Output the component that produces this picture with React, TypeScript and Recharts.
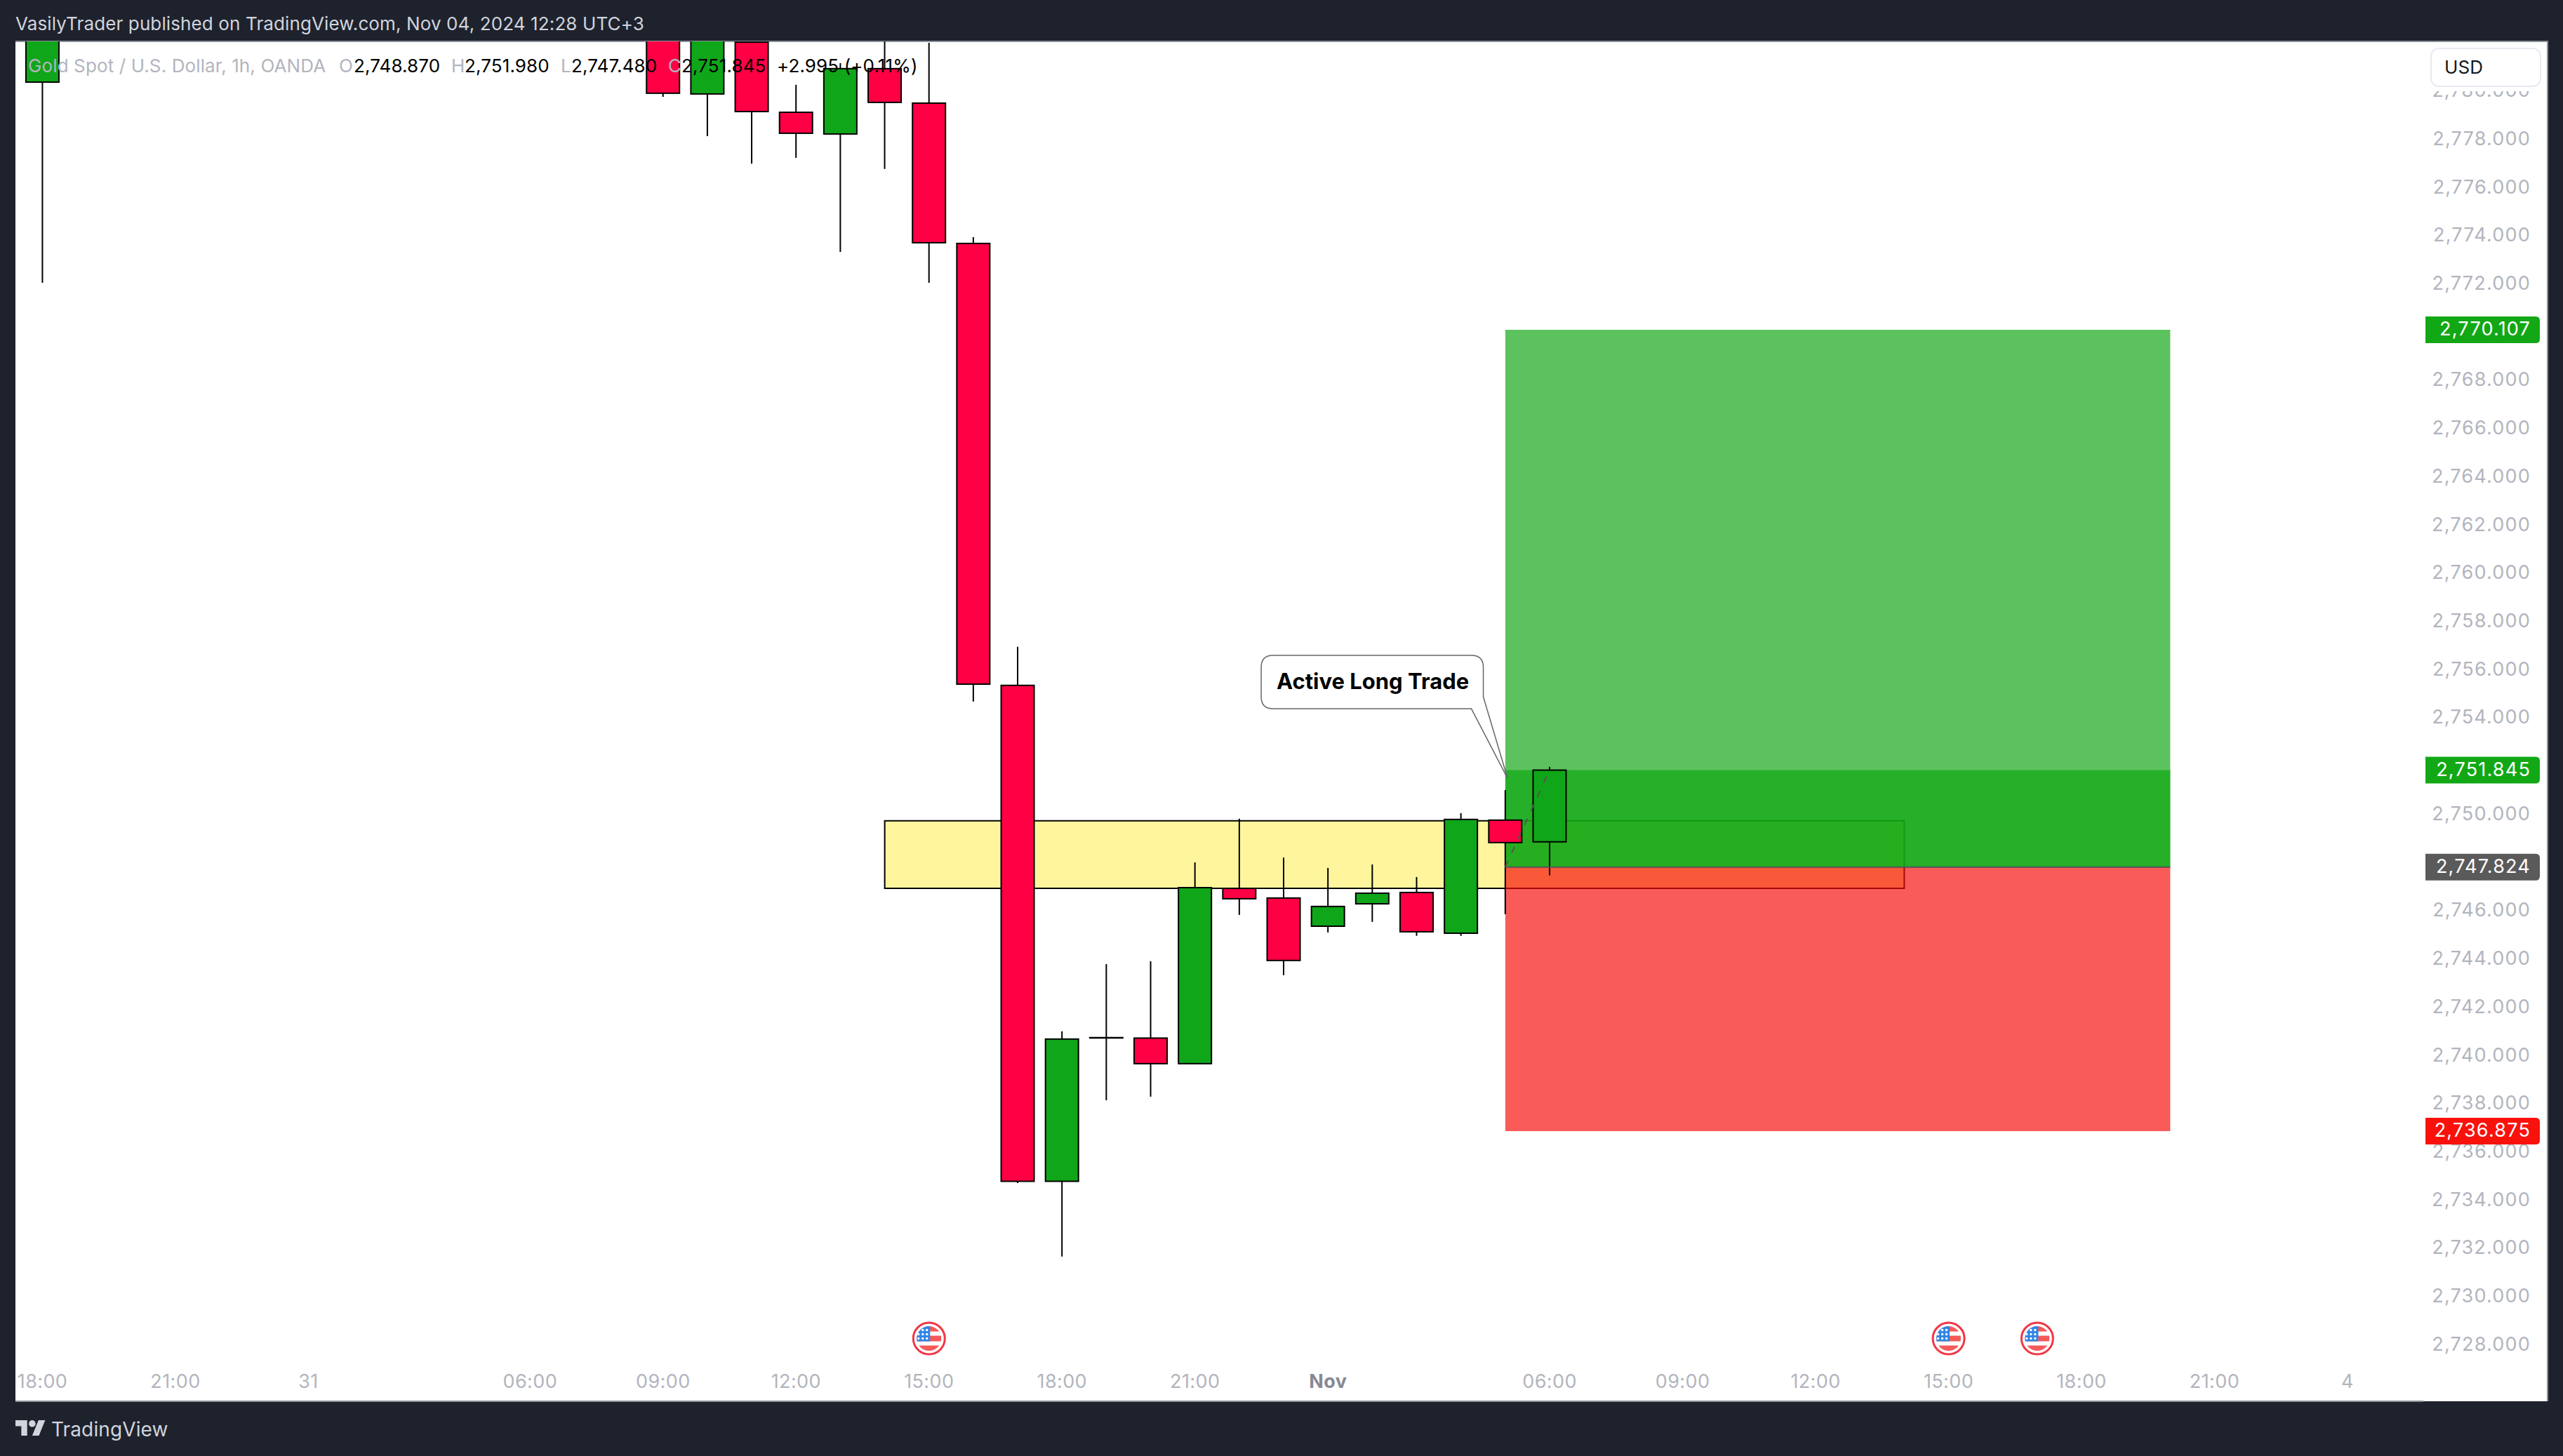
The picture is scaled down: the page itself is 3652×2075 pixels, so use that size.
import React from "react";
import { ComposedChart, Bar, XAxis, YAxis, ReferenceArea, ReferenceLine, ReferenceDot } from "recharts";

// hour index along the time axis (0 = Oct 30 18:00), candles in between sit above the visible range
const hours = [0, 14, 15, 16, 17, 18, 19, 20, 21, 22, 23, 24, 25, 26, 27, 28, 29, 30, 31, 32, 33, 34];
const opens = [2780.38, 2783.2, 2779.89, 2782.04, 2779.13, 2778.23, 2780.94, 2779.51, 2773.69, 2755.36, 2734.79, 2740.75, 2740.73, 2739.67, 2746.94, 2746.54, 2745.37, 2746.3, 2746.77, 2745.08, 2749.77, 2748.87];
const closes = [2785, 2779.92, 2783, 2779.16, 2778.26, 2780.94, 2779.54, 2773.72, 2755.41, 2734.79, 2740.69, 2740.74, 2739.67, 2746.97, 2746.51, 2743.95, 2746.19, 2746.74, 2745.14, 2749.8, 2748.84, 2751.845];
const highs = [2790, 2784, 2784, 2783, 2780.27, 2781.17, 2782.5, 2782.01, 2773.95, 2756.96, 2741.01, 2743.8, 2743.92, 2748.02, 2749.83, 2748.22, 2747.79, 2747.93, 2747.41, 2750.06, 2751.02, 2751.98];
const lows = [2772.06, 2779.77, 2778.14, 2777, 2777.24, 2773.34, 2776.78, 2772.06, 2754.69, 2734.72, 2731.67, 2738.15, 2738.3, 2739.65, 2745.84, 2743.34, 2745.11, 2745.55, 2744.97, 2744.97, 2745.87, 2747.48];

const timeTicks = [0, 3, 6, 11, 14, 17, 20, 23, 26, 29, 34, 37, 40, 43, 46, 49, 52];
const timeLabels = ["18:00", "21:00", "31", "06:00", "09:00", "12:00", "15:00", "18:00", "21:00", "Nov", "06:00", "09:00", "12:00", "15:00", "18:00", "21:00", "4"];
const priceTicks = [2780, 2778, 2776, 2774, 2772, 2768, 2766, 2764, 2762, 2760, 2758, 2756, 2754, 2750, 2746, 2744, 2742, 2740, 2738, 2736, 2734, 2732, 2730, 2728];

const takeProfit = 2770.107;
const currentPrice = 2751.845;
const entryPrice = 2747.824;
const stopLoss = 2736.875;
const zoneTop = 2749.74;
const zoneBottom = 2746.94;
const eventHours = [20, 43, 45];
const eventPrice = 2728.27;

const priceTags: Record<number, string> = {
  [takeProfit]: "#12a815",
  [currentPrice]: "#12a815",
  [entryPrice]: "#5a5a5a",
  [stopLoss]: "#f9110c",
};

const candles = hours.map((hour, i) => ({
  hour,
  open: opens[i],
  close: closes[i],
  high: highs[i],
  low: lows[i],
  range: [lows[i], highs[i]],
}));

const UI_FONT = "Inter, sans-serif";
const GREEN = "#10a619";
const RED = "#ff0044";

function Candle(props: any) {
  const { x, y, width, height, payload } = props;
  const unit = Math.abs(height) / (payload.high - payload.low);
  const yOf = (p: number) => y + (payload.high - p) * unit;
  const mid = x + width / 2;
  const top = yOf(Math.max(payload.open, payload.close));
  const bottom = yOf(Math.min(payload.open, payload.close));
  return (
    <g>
      <line x1={mid} x2={mid} y1={yOf(payload.high)} y2={yOf(payload.low)} stroke="#000" strokeWidth={2} />
      <rect
        x={x + 1}
        y={top}
        width={width - 2}
        height={Math.max(bottom - top, 0.5)}
        fill={payload.close >= payload.open ? GREEN : RED}
        stroke="#000"
        strokeWidth={2}
      />
    </g>
  );
}

function PriceTick({ y, payload }: any) {
  const tag = priceTags[payload.value];
  const label = payload.value.toLocaleString("en-US", { minimumFractionDigits: 3, maximumFractionDigits: 3 });
  return (
    <g>
      {tag && (
        <path
          d={`M3456 ${y - 19} H3613 Q3619 ${y - 19} 3619 ${y - 13} V${y + 13} Q3619 ${y + 19} 3613 ${y + 19} H3456 Z`}
          fill={tag}
        />
      )}
      <text
        x={3606}
        y={y + 8}
        textAnchor="end"
        fontFamily={UI_FONT}
        fontSize={27}
        letterSpacing={1.2}
        fill={tag ? "#fff" : "#b2b5be"}
      >
        {label}
      </text>
    </g>
  );
}

function TimeTick({ x, payload }: any) {
  const label = timeLabels[timeTicks.indexOf(payload.value)];
  const bold = label === "Nov";
  return (
    <text
      x={x}
      y={1978}
      textAnchor="middle"
      fontFamily={UI_FONT}
      fontSize={27}
      fontWeight={bold ? 700 : 400}
      letterSpacing={0.4}
      fill={bold ? "#868993" : "#b2b5be"}
    >
      {label}
    </text>
  );
}

function Callout({ cx, cy }: any) {
  const left = cx - 351;
  const right = cx - 34.5;
  const top = cy - 175;
  const bottom = cy - 99;
  const d = `M${left + 17} ${top} H${right - 17} Q${right} ${top} ${right} ${top + 17} V${bottom - 17} L${cx} ${cy} L${right - 17} ${bottom} H${left + 17} Q${left} ${bottom} ${left} ${bottom - 17} V${top + 17} Q${left} ${top} ${left + 17} ${top} Z`;
  return (
    <g>
      <path d={d} fill="#fff" stroke="#666" strokeWidth={1.5} />
      <text x={cx - 192} y={top + 48} textAnchor="middle" fontFamily={UI_FONT} fontSize={31} fontWeight={700} fill="#000">
        Active Long Trade
      </text>
    </g>
  );
}

const starOffsets = [-12, -6, 0];

function EventFlag({ cx, cy }: any) {
  const clip = `flag-${Math.round(cx)}`;
  return (
    <g>
      <circle cx={cx} cy={cy} r={22.5} fill="#fff" stroke="#f23645" strokeWidth={3} />
      <clipPath id={clip}>
        <circle cx={cx} cy={cy} r={17.5} />
      </clipPath>
      <g clipPath={`url(#${clip})`}>
        <rect x={cx - 18} y={cy - 18} width={36} height={8} fill="#f45a5a" />
        <rect x={cx - 18} y={cy - 4} width={36} height={8} fill="#f45a5a" />
        <rect x={cx - 18} y={cy + 10} width={36} height={8} fill="#f45a5a" />
        <rect x={cx - 18} y={cy - 18} width={19.5} height={22} fill="#2f86e6" />
        {starOffsets.map((dy) =>
          starOffsets.map((dx) => <circle key={`${dx}${dy}`} cx={cx - 3 + dx} cy={cy + dy} r={1.7} fill="#fff" />)
        )}
      </g>
    </g>
  );
}

function Overlay({ left, top, color, size = 26, weight = 400, spacing = 0.12, children }: any) {
  return (
    <div
      style={{
        position: "absolute",
        left,
        top,
        color,
        fontSize: size,
        fontWeight: weight,
        fontFamily: UI_FONT,
        letterSpacing: spacing,
        lineHeight: "32px",
        whiteSpace: "nowrap",
      }}
    >
      {children}
    </div>
  );
}

export default function App() {
  return (
    <div style={{ position: "absolute", left: 0, top: 0, width: 3652, height: 2075, background: "#1e222d", overflow: "hidden" }}>
      <div style={{ position: "absolute", left: 22, top: 59, width: 3607, height: 1938, background: "#fff" }} />
      <div style={{ position: "absolute", left: 22, top: 58, width: 3608, height: 1.5, background: "#8d9099" }} />
      <div style={{ position: "absolute", left: 3629, top: 58, width: 1.5, height: 1939, background: "#8d9099" }} />
      <div style={{ position: "absolute", left: 22, top: 1996, width: 3431, height: 2, background: "#8d9099" }} />

      <div style={{ position: "absolute", left: 0, top: 0 }}>
        <ComposedChart width={3652} height={2075} data={candles} margin={{ top: 59, right: 23, bottom: 78, left: 22 }}>
          <XAxis
            dataKey="hour"
            type="number"
            domain={[-0.61, 53.71]}
            allowDataOverflow
            ticks={timeTicks}
            interval={0}
            height={52}
            axisLine={false}
            tickLine={false}
            tick={<TimeTick />}
          />
          <YAxis
            orientation="right"
            type="number"
            domain={[2727.18, 2782.07]}
            allowDataOverflow
            ticks={[...priceTicks, takeProfit, currentPrice, entryPrice, stopLoss]}
            interval={0}
            width={176}
            axisLine={false}
            tickLine={false}
            tick={<PriceTick />}
          />
          <ReferenceArea x1={19} x2={42} y1={zoneBottom} y2={zoneTop} fill="#fff59d" fillOpacity={1} stroke="#000" strokeWidth={2} />
          <ReferenceArea x1={33} x2={48} y1={entryPrice} y2={takeProfit} fill="#0fa512" fillOpacity={0.68} />
          <ReferenceArea x1={33} x2={48} y1={entryPrice} y2={currentPrice} fill="#12a815" fillOpacity={0.72} />
          <ReferenceArea x1={33} x2={48} y1={stopLoss} y2={entryPrice} fill="#f60b07" fillOpacity={0.67} />
          <ReferenceLine segment={[{ x: 33, y: entryPrice }, { x: 48, y: entryPrice }]} stroke="#555" strokeWidth={2} />
          <ReferenceLine segment={[{ x: 33, y: entryPrice }, { x: 34, y: currentPrice }]} stroke="#555" strokeWidth={2} strokeDasharray="10 12" />
          <Bar dataKey="range" barSize={49} shape={<Candle />} isAnimationActive={false} />
          <ReferenceDot x={33.05} y={2751.51} r={0} shape={<Callout />} ifOverflow="visible" />
          {eventHours.map((h) => (
            <ReferenceDot key={h} x={h} y={eventPrice} r={0} shape={<EventFlag />} ifOverflow="visible" />
          ))}
        </ComposedChart>
      </div>

      <div style={{ position: "absolute", left: 22, top: 0, width: 3608, height: 58, background: "#1e222d" }} />
      <Overlay left={22} top={18} color="#d1d4dc">
        VasilyTrader published on TradingView.com, Nov 04, 2024 12:28 UTC+3
      </Overlay>

      <Overlay left={40} top={78} color="#b2b5be">Gold Spot / U.S. Dollar, 1h, OANDA</Overlay>
      <Overlay left={483} top={78} color="#b2b5be">O</Overlay>
      <Overlay left={504} top={78} color="#000">2,748.870</Overlay>
      <Overlay left={643} top={78} color="#b2b5be">H</Overlay>
      <Overlay left={662} top={78} color="#000">2,751.980</Overlay>
      <Overlay left={799} top={78} color="#b2b5be">L</Overlay>
      <Overlay left={814} top={78} color="#000">2,747.480</Overlay>
      <Overlay left={952} top={78} color="#b2b5be">C</Overlay>
      <Overlay left={971} top={78} color="#000">2,751.845</Overlay>
      <Overlay left={1107} top={78} color="#000">+2.995 (+0.11%)</Overlay>

      {/* the currency button hides the top half of the 2,780 label */}
      <div style={{ position: "absolute", left: 3463, top: 68, width: 158, height: 62, background: "#fff" }} />
      <div
        style={{
          position: "absolute",
          left: 3463,
          top: 68,
          width: 158,
          height: 56,
          boxSizing: "border-box",
          background: "#fff",
          border: "2px solid #e8eaf2",
          borderRadius: 12,
        }}
      />
      <Overlay left={3483} top={80} color="#131722" size={26}>USD</Overlay>

      <svg style={{ position: "absolute", left: 22, top: 2024 }} width={43} height={22} viewBox="0 4 36 18" preserveAspectRatio="none">
        <path d="M14 22H7V11H0V4h14v18zM28 22h-8l7.5-18h8L28 22z" fill="#d1d4dc" />
        <circle cx={20} cy={8} r={4} fill="#d1d4dc" />
      </svg>
      <Overlay left={73} top={2021} color="#d1d4dc" size={28}>TradingView</Overlay>
    </div>
  );
}
